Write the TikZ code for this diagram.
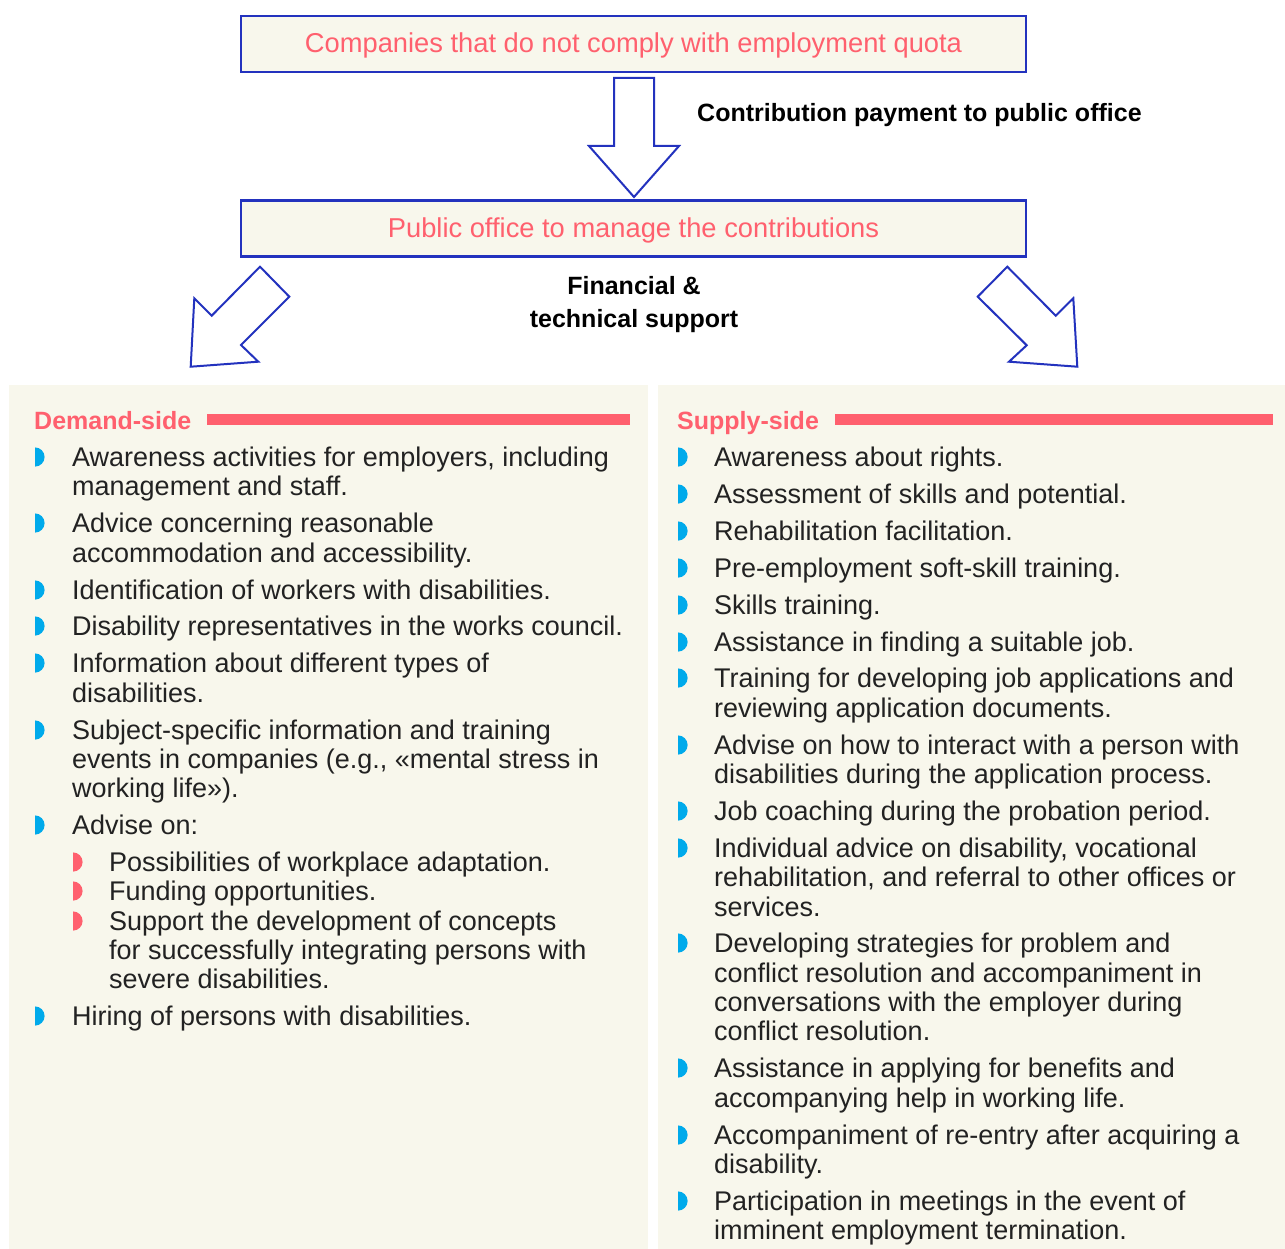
\documentclass[tikz,border=0pt]{standalone}
\usepackage{fontspec}
\setmainfont{Liberation Sans}
\definecolor{panelbg}{RGB}{248,247,236}
\definecolor{boxblue}{RGB}{35,50,190}
\definecolor{accred}{RGB}{255,96,110}
\definecolor{bulblue}{RGB}{0,170,235}
\definecolor{txt}{RGB}{34,34,34}
\tikzset{
  topbox/.style={draw=boxblue, line width=2.5pt, fill=panelbg, minimum width=785pt, minimum height=56pt,
    text=accred, font=\fontsize{27.3}{30}\selectfont, text height=23pt, text depth=5pt, inner sep=0pt},
  blockarrow/.style={draw=boxblue, line width=2pt, fill=white, line join=miter},
  li/.style={anchor=base west, inner sep=0pt, text=txt, font=\fontsize{27}{29.5}\selectfont},
  lbl/.style={anchor=base, inner sep=0pt, text=black, font=\fontsize{25}{28}\selectfont\bfseries},
  head/.style={anchor=base west, inner sep=0pt, text=accred, font=\fontsize{25}{28}\selectfont\bfseries},
  bulb/.pic={\fill[#1] (0,-9.6) arc (-90:90:9.6) -- cycle;},
}
\begin{document}
\begin{tikzpicture}[x=1pt,y=-1pt]
\useasboundingbox (0,0) rectangle (1285,1249);
\fill[white] (0,0) rectangle (1285,1249);
% panels
\fill[panelbg] (9,385) rectangle (648,1249);
\fill[panelbg] (658,385) rectangle (1285,1249);
% top boxes
\node[topbox] (comp) at (633.5,44) {Companies that do not comply with employment quota};
\node[topbox] (office) at (633.5,228.5) {Public office to manage the contributions};
% arrows
\draw[blockarrow] (614,78) -- (654,78) -- (654,146) -- (679,146) -- (634,197) -- (589,146) -- (614,146) -- cycle;
\node[lbl, anchor=base west] (contrib) at (697,122) {Contribution payment to public office};
\draw[blockarrow] (260,266.7) -- (289.3,296.7) -- (241,345) -- (258.3,361.7) -- (190.7,366.7) -- (194.3,298.3) -- (211.7,315.7) -- cycle;
\draw[blockarrow] (1007.3,266.7) -- (977.7,296.7) -- (1026.7,345.3) -- (1009,361.7) -- (1077.3,366.7) -- (1073.3,298.3) -- (1055.7,315.7) -- cycle;
\node[lbl] (fin1) at (634,295) {Financial \&};
\node[lbl] (fin2) at (634,327) {technical support};
% headings
\node[head] (demand) at (34,429) {Demand-side};
\fill[accred] (207,414) rectangle (630,425);
\node[head] (supply) at (677,429) {Supply-side};
\fill[accred] (835,414) rectangle (1273,425);
% left bullets
\foreach \yy in {457,523,590,626,663,730,825,1016}{\pic at (35,\yy) {bulb=bulblue};}
\foreach \yy in {862,891,921}{\pic at (73,\yy) {bulb=accred};}
% left text
\node[li] (d1a) at (72,466.5) {Awareness activities for employers, including};
\node[li] (d1b) at (72,495.5) {management and staff.};
\node[li] (d2a) at (72,532.5) {Advice concerning reasonable};
\node[li] (d2b) at (72,562.5) {accommodation and accessibility.};
\node[li] (d3) at (72,599.5) {Identification of workers with disabilities.};
\node[li] (d4) at (72,635.5) {Disability representatives in the works council.};
\node[li] (d5a) at (72,672.5) {Information about different types of};
\node[li] (d5b) at (72,702.5) {disabilities.};
\node[li] (d6a) at (72,739.5) {Subject-specific information and training};
\node[li] (d6b) at (72,768.5) {events in companies (e.g., «mental stress in};
\node[li] (d6c) at (72,797.5) {working life»).};
\node[li] (d7) at (72,834.5) {Advise on:};
\node[li] (s1) at (109,871.5) {Possibilities of workplace adaptation.};
\node[li] (s2) at (109,900.5) {Funding opportunities.};
\node[li] (s3a) at (109,930.5) {Support the development of concepts};
\node[li] (s3b) at (109,959.5) {for successfully integrating persons with};
\node[li] (s3c) at (109,988.5) {severe disabilities.};
\node[li] (d8) at (72,1025.5) {Hiring of persons with disabilities.};
% right bullets
\foreach \yy in {457,494,531,568,605,642,678,745,811,848,943,1068,1135,1201}{\pic at (678,\yy) {bulb=bulblue};}
% right text
\node[li] (r1) at (714,466.5) {Awareness about rights.};
\node[li] (r2) at (714,503.5) {Assessment of skills and potential.};
\node[li] (r3) at (714,540.5) {Rehabilitation facilitation.};
\node[li] (r4) at (714,577.5) {Pre-employment soft-skill training.};
\node[li] (r5) at (714,614.5) {Skills training.};
\node[li] (r6) at (714,651.5) {Assistance in finding a suitable job.};
\node[li] (r7a) at (714,687.5) {Training for developing job applications and};
\node[li] (r7b) at (714,717.5) {reviewing application documents.};
\node[li] (r8a) at (714,754.5) {Advise on how to interact with a person with};
\node[li] (r8b) at (714,783.5) {disabilities during the application process.};
\node[li] (r9) at (714,820.5) {Job coaching during the probation period.};
\node[li] (r10a) at (714,857.5) {Individual advice on disability, vocational};
\node[li] (r10b) at (714,886.5) {rehabilitation, and referral to other offices or};
\node[li] (r10c) at (714,916.5) {services.};
\node[li] (r11a) at (714,952.5) {Developing strategies for problem and};
\node[li] (r11b) at (714,982.5) {conflict resolution and accompaniment in};
\node[li] (r11c) at (714,1011.5) {conversations with the employer during};
\node[li] (r11d) at (714,1040.5) {conflict resolution.};
\node[li] (r12a) at (714,1077.5) {Assistance in applying for benefits and};
\node[li] (r12b) at (714,1107.5) {accompanying help in working life.};
\node[li] (r13a) at (714,1144.5) {Accompaniment of re-entry after acquiring a};
\node[li] (r13b) at (714,1173.5) {disability.};
\node[li] (r14a) at (714,1210.5) {Participation in meetings in the event of};
\node[li] (r14b) at (714,1239.5) {imminent employment termination.};
\end{tikzpicture}
\end{document}
